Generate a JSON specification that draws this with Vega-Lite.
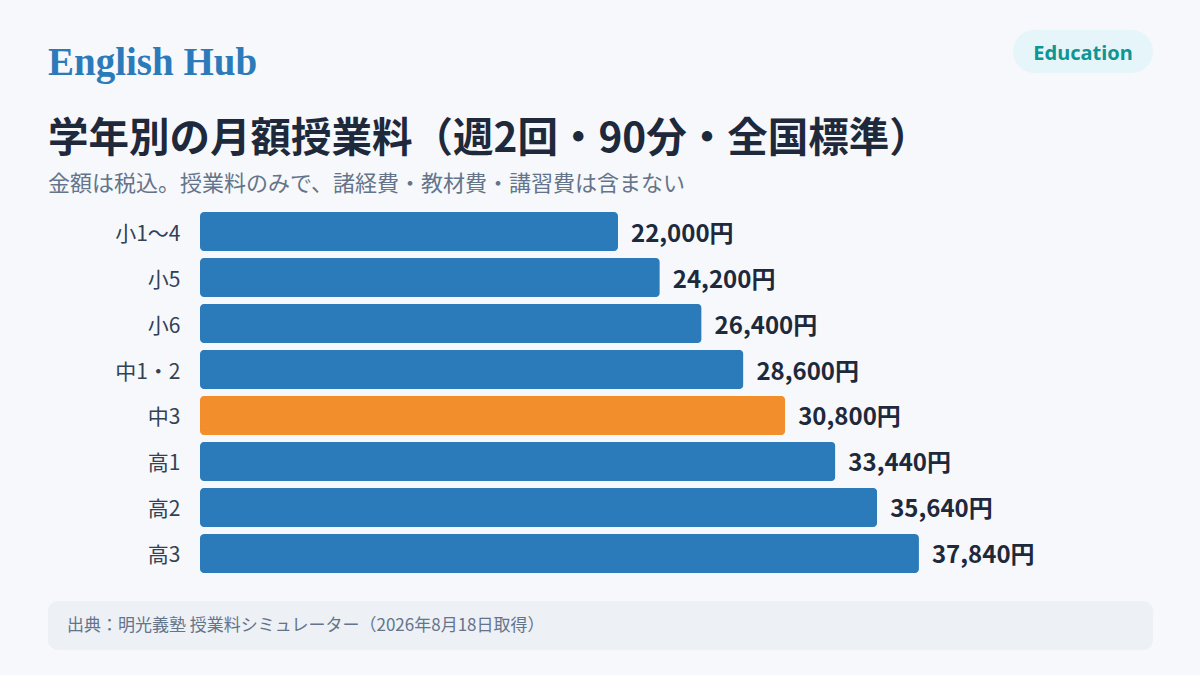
{
  "$schema": "https://vega.github.io/schema/vega-lite/v6.json",
  "autosize": {"type": "none"},
  "width": 950,
  "height": 361,
  "padding": {"left": 200, "top": 212, "right": 50, "bottom": 102},
  "background": "#f6f8fc",
  "config": {
    "view": {"stroke": null},
    "font": "Noto Sans CJK JP"
  },
  "data": {
    "values": [
      {"grade": "小1〜4", "fee": 22000, "label": "22,000円"},
      {"grade": "小5", "fee": 24200, "label": "24,200円"},
      {"grade": "小6", "fee": 26400, "label": "26,400円"},
      {"grade": "中1・2", "fee": 28600, "label": "28,600円"},
      {"grade": "中3", "fee": 30800, "label": "30,800円"},
      {"grade": "高1", "fee": 33440, "label": "33,440円"},
      {"grade": "高2", "fee": 35640, "label": "35,640円"},
      {"grade": "高3", "fee": 37840, "label": "37,840円"}
    ]
  },
  "encoding": {
    "y": {
      "field": "grade",
      "type": "nominal",
      "sort": null,
      "scale": {"paddingInner": 0.152, "paddingOuter": 0},
      "axis": {
        "title": null,
        "domain": false,
        "ticks": false,
        "labelPadding": 20,
        "labelOffset": 3,
        "labelFontSize": 21,
        "labelColor": "#334155",
        "labelFont": "Noto Sans CJK JP"
      }
    },
    "x": {
      "field": "fee",
      "type": "quantitative",
      "scale": {"domain": [0, 50000]},
      "axis": null
    }
  },
  "layer": [
    {
      "mark": {"type": "bar", "cornerRadius": 4},
      "encoding": {
        "color": {
          "condition": {"test": "datum.grade === '中3'", "value": "#f28e2b"},
          "value": "#2b7bba"
        }
      }
    },
    {
      "mark": {
        "type": "text",
        "align": "left",
        "baseline": "middle",
        "dx": 13,
        "dy": 3,
        "fontSize": 24,
        "fontWeight": "bold",
        "color": "#1e293b",
        "font": "Noto Sans CJK JP"
      },
      "encoding": {"text": {"field": "label"}}
    },
    {
      "data": {"values": [{}]},
      "mark": {
        "type": "text",
        "align": "left",
        "baseline": "alphabetic",
        "font": "Liberation Serif",
        "fontWeight": "bold",
        "fontSize": 39,
        "color": "#2b7bba",
        "text": "English Hub"
      },
      "encoding": {"x": {"value": -152}, "y": {"value": -137}}
    },
    {
      "data": {"values": [{}]},
      "mark": {
        "type": "text",
        "align": "left",
        "baseline": "alphabetic",
        "fontWeight": "bold",
        "fontSize": 40.5,
        "color": "#1e293b",
        "text": "学年別の月額授業料（週2回・90分・全国標準）"
      },
      "encoding": {"x": {"value": -152}, "y": {"value": -60}}
    },
    {
      "data": {"values": [{}]},
      "mark": {
        "type": "text",
        "align": "left",
        "baseline": "alphabetic",
        "fontSize": 22,
        "color": "#64748b",
        "text": "金額は税込。授業料のみで、諸経費・教材費・講習費は含まない"
      },
      "encoding": {"x": {"value": -152}, "y": {"value": -21}}
    },
    {
      "data": {"values": [{}]},
      "mark": {"type": "rect", "cornerRadius": 22, "color": "#e6f5fa"},
      "encoding": {
        "x": {"value": 813},
        "x2": {"value": 953},
        "y": {"value": -182},
        "y2": {"value": -139}
      }
    },
    {
      "data": {"values": [{}]},
      "mark": {
        "type": "text",
        "align": "center",
        "baseline": "middle",
        "font": "Noto Sans",
        "fontWeight": "bold",
        "fontSize": 20,
        "color": "#0e9594",
        "text": "Education"
      },
      "encoding": {"x": {"value": 883}, "y": {"value": -158}}
    },
    {
      "data": {"values": [{}]},
      "mark": {"type": "rect", "cornerRadius": 10, "color": "#edf0f5"},
      "encoding": {
        "x": {"value": -152},
        "x2": {"value": 953},
        "y": {"value": 389},
        "y2": {"value": 438}
      }
    },
    {
      "data": {"values": [{}]},
      "mark": {
        "type": "text",
        "align": "left",
        "baseline": "middle",
        "fontSize": 17,
        "color": "#64748b",
        "text": "出典：明光義塾 授業料シミュレーター（2026年8月18日取得）"
      },
      "encoding": {"x": {"value": -133}, "y": {"value": 414}}
    }
  ]
}
